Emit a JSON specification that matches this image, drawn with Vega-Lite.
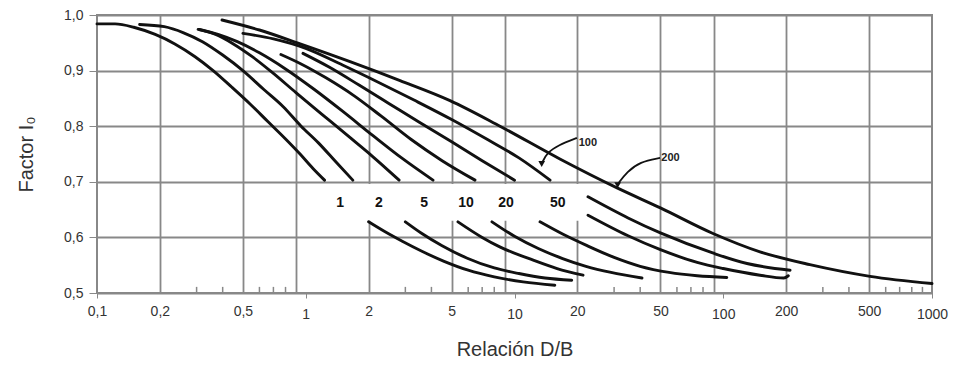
{
  "$schema": "https://vega.github.io/schema/vega-lite/v6.json",
  "width": 835,
  "height": 278,
  "autosize": "none",
  "padding": {"left": 97, "top": 15, "right": 22, "bottom": 77},
  "background": "white",
  "config": {
    "view": {"stroke": "#888888", "strokeWidth": 2},
    "font": "Liberation Sans",
    "axis": {"labelFont": "Liberation Sans", "titleFont": "Liberation Sans", "titleFontWeight": "normal", "labelColor": "#333333", "titleColor": "#333333", "domain": false, "gridColor": "#888888", "gridWidth": 1.8, "tickColor": "#888888"}
  },
  "datasets": {
    "curves": [
      {"s": "1a", "x": 0.1, "y": 0.984}, {"s": "1a", "x": 0.122, "y": 0.984}, {"s": "1a", "x": 0.15, "y": 0.978}, {"s": "1a", "x": 0.19, "y": 0.965}, {"s": "1a", "x": 0.236, "y": 0.948}, {"s": "1a", "x": 0.295, "y": 0.925}, {"s": "1a", "x": 0.36, "y": 0.9}, {"s": "1a", "x": 0.443, "y": 0.87}, {"s": "1a", "x": 0.541, "y": 0.84}, {"s": "1a", "x": 0.66, "y": 0.808}, {"s": "1a", "x": 0.796, "y": 0.778}, {"s": "1a", "x": 0.939, "y": 0.75}, {"s": "1a", "x": 1.083, "y": 0.724}, {"s": "1a", "x": 1.23, "y": 0.703},
      {"s": "1b", "x": 2.0, "y": 0.628}, {"s": "1b", "x": 2.4, "y": 0.61}, {"s": "1b", "x": 2.9, "y": 0.593}, {"s": "1b", "x": 3.6, "y": 0.575}, {"s": "1b", "x": 4.6, "y": 0.557}, {"s": "1b", "x": 6, "y": 0.541}, {"s": "1b", "x": 8, "y": 0.529}, {"s": "1b", "x": 11, "y": 0.52}, {"s": "1b", "x": 15.6, "y": 0.514},
      {"s": "2a", "x": 0.16, "y": 0.983}, {"s": "2a", "x": 0.21, "y": 0.979}, {"s": "2a", "x": 0.26, "y": 0.968}, {"s": "2a", "x": 0.32, "y": 0.952}, {"s": "2a", "x": 0.4, "y": 0.928}, {"s": "2a", "x": 0.5, "y": 0.9}, {"s": "2a", "x": 0.63, "y": 0.866}, {"s": "2a", "x": 0.78, "y": 0.835}, {"s": "2a", "x": 0.95, "y": 0.8}, {"s": "2a", "x": 1.15, "y": 0.77}, {"s": "2a", "x": 1.4, "y": 0.735}, {"s": "2a", "x": 1.68, "y": 0.703},
      {"s": "2b", "x": 3.0, "y": 0.628}, {"s": "2b", "x": 3.6, "y": 0.607}, {"s": "2b", "x": 4.5, "y": 0.585}, {"s": "2b", "x": 5.9, "y": 0.563}, {"s": "2b", "x": 8, "y": 0.545}, {"s": "2b", "x": 10.5, "y": 0.535}, {"s": "2b", "x": 14, "y": 0.527}, {"s": "2b", "x": 18.8, "y": 0.523},
      {"s": "5a", "x": 0.305, "y": 0.974}, {"s": "5a", "x": 0.37, "y": 0.965}, {"s": "5a", "x": 0.45, "y": 0.948}, {"s": "5a", "x": 0.55, "y": 0.926}, {"s": "5a", "x": 0.7, "y": 0.895}, {"s": "5a", "x": 0.9, "y": 0.86}, {"s": "5a", "x": 1.2, "y": 0.821}, {"s": "5a", "x": 1.6, "y": 0.782}, {"s": "5a", "x": 2.1, "y": 0.745}, {"s": "5a", "x": 2.8, "y": 0.703},
      {"s": "5b", "x": 5.36, "y": 0.628}, {"s": "5b", "x": 7, "y": 0.6}, {"s": "5b", "x": 8.5, "y": 0.583}, {"s": "5b", "x": 12.3, "y": 0.559}, {"s": "5b", "x": 16, "y": 0.544}, {"s": "5b", "x": 21.3, "y": 0.532},
      {"s": "10a", "x": 0.31, "y": 0.974}, {"s": "10a", "x": 0.38, "y": 0.965}, {"s": "10a", "x": 0.47, "y": 0.952}, {"s": "10a", "x": 0.6, "y": 0.932}, {"s": "10a", "x": 0.8, "y": 0.903}, {"s": "10a", "x": 1.1, "y": 0.866}, {"s": "10a", "x": 1.5, "y": 0.827}, {"s": "10a", "x": 2.1, "y": 0.783}, {"s": "10a", "x": 2.9, "y": 0.742}, {"s": "10a", "x": 4.07, "y": 0.703},
      {"s": "10b", "x": 7.8, "y": 0.628}, {"s": "10b", "x": 10, "y": 0.602}, {"s": "10b", "x": 13, "y": 0.58}, {"s": "10b", "x": 17, "y": 0.562}, {"s": "10b", "x": 22, "y": 0.548}, {"s": "10b", "x": 29, "y": 0.537}, {"s": "10b", "x": 40.8, "y": 0.527},
      {"s": "20a", "x": 0.76, "y": 0.929}, {"s": "20a", "x": 0.95, "y": 0.912}, {"s": "20a", "x": 1.25, "y": 0.887}, {"s": "20a", "x": 1.7, "y": 0.855}, {"s": "20a", "x": 2.3, "y": 0.818}, {"s": "20a", "x": 3.2, "y": 0.776}, {"s": "20a", "x": 4.5, "y": 0.738}, {"s": "20a", "x": 6.47, "y": 0.703},
      {"s": "20b", "x": 13.25, "y": 0.628}, {"s": "20b", "x": 17, "y": 0.606}, {"s": "20b", "x": 22, "y": 0.586}, {"s": "20b", "x": 30, "y": 0.564}, {"s": "20b", "x": 40, "y": 0.548}, {"s": "20b", "x": 55, "y": 0.537}, {"s": "20b", "x": 75, "y": 0.531}, {"s": "20b", "x": 104, "y": 0.528},
      {"s": "50a", "x": 0.97, "y": 0.931}, {"s": "50a", "x": 1.3, "y": 0.906}, {"s": "50a", "x": 1.8, "y": 0.874}, {"s": "50a", "x": 2.5, "y": 0.841}, {"s": "50a", "x": 3.5, "y": 0.807}, {"s": "50a", "x": 5, "y": 0.772}, {"s": "50a", "x": 7, "y": 0.738}, {"s": "50a", "x": 10, "y": 0.703},
      {"s": "50b", "x": 22.5, "y": 0.64}, {"s": "50b", "x": 35, "y": 0.603}, {"s": "50b", "x": 50, "y": 0.578}, {"s": "50b", "x": 75, "y": 0.555}, {"s": "50b", "x": 100, "y": 0.544}, {"s": "50b", "x": 150, "y": 0.532}, {"s": "50b", "x": 195, "y": 0.527}, {"s": "50b", "x": 205, "y": 0.531},
      {"s": "100a", "x": 0.5, "y": 0.967}, {"s": "100a", "x": 0.7, "y": 0.957}, {"s": "100a", "x": 1.0, "y": 0.94}, {"s": "100a", "x": 1.5, "y": 0.91}, {"s": "100a", "x": 2.2, "y": 0.88}, {"s": "100a", "x": 3.3, "y": 0.847}, {"s": "100a", "x": 5, "y": 0.812}, {"s": "100a", "x": 7.5, "y": 0.775}, {"s": "100a", "x": 10.5, "y": 0.743}, {"s": "100a", "x": 14.8, "y": 0.703},
      {"s": "100b", "x": 22.5, "y": 0.673}, {"s": "100b", "x": 35, "y": 0.635}, {"s": "100b", "x": 50, "y": 0.608}, {"s": "100b", "x": 89, "y": 0.572}, {"s": "100b", "x": 130, "y": 0.553}, {"s": "100b", "x": 209, "y": 0.541},
      {"s": "200", "x": 0.397, "y": 0.991}, {"s": "200", "x": 0.6, "y": 0.973}, {"s": "200", "x": 0.94, "y": 0.948}, {"s": "200", "x": 1.63, "y": 0.916}, {"s": "200", "x": 2.83, "y": 0.882}, {"s": "200", "x": 4.91, "y": 0.846}, {"s": "200", "x": 8.52, "y": 0.8}, {"s": "200", "x": 16.5, "y": 0.741}, {"s": "200", "x": 31, "y": 0.689}, {"s": "200", "x": 50, "y": 0.653}, {"s": "200", "x": 89.3, "y": 0.607}, {"s": "200", "x": 150, "y": 0.574}, {"s": "200", "x": 260, "y": 0.551}, {"s": "200", "x": 505, "y": 0.53}, {"s": "200", "x": 1000, "y": 0.517}
    ],
    "arrows": [
      {"a": "100", "o": 1, "x": 19.9, "y": 0.779}, {"a": "100", "o": 2, "x": 16.2, "y": 0.766}, {"a": "100", "o": 3, "x": 14.3, "y": 0.752}, {"a": "100", "o": 4, "x": 13.6, "y": 0.735},
      {"a": "200", "o": 1, "x": 49.8, "y": 0.743}, {"a": "200", "o": 2, "x": 39.9, "y": 0.736}, {"a": "200", "o": 3, "x": 34.6, "y": 0.718}, {"a": "200", "o": 4, "x": 31.4, "y": 0.697}
    ],
    "heads": [
      {"a": "100", "x": 13.5, "y": 0.732},
      {"a": "200", "x": 31.2, "y": 0.694}
    ],
    "labels": [
      {"t": "1", "x": 1.46, "y": 0.662}, {"t": "2", "x": 2.24, "y": 0.662}, {"t": "5", "x": 3.69, "y": 0.662}, {"t": "10", "x": 5.86, "y": 0.662}, {"t": "20", "x": 9.1, "y": 0.662}, {"t": "50", "x": 16.1, "y": 0.662}
    ],
    "arrowlabels": [
      {"t": "100", "x": 20.3, "y": 0.77}, {"t": "200", "x": 50.5, "y": 0.743}
    ],
    "minor": [
      {"x": 0.3}, {"x": 0.4}, {"x": 0.6}, {"x": 0.7}, {"x": 0.8}, {"x": 3}, {"x": 4}, {"x": 6}, {"x": 7}, {"x": 8}, {"x": 30}, {"x": 40}, {"x": 60}, {"x": 70}, {"x": 80}, {"x": 300}, {"x": 400}, {"x": 600}, {"x": 700}, {"x": 800}, {"x": 900}
    ],
    "band": [{"x": 1.0, "x2": 24, "y": 0.63, "y2": 0.696}]
  },
  "layer": [
    {
      "data": {"name": "band"},
      "mark": {"type": "rect", "fill": "white", "stroke": null},
      "encoding": {
        "x": {"field": "x", "type": "quantitative", "scale": {"type": "log", "domain": [0.1, 1000], "nice": false},
          "axis": {
            "title": "Relación D/B", "titleFontSize": 20, "titlePadding": 18,
            "values": [0.1, 0.2, 0.5, 0.9, 1, 2, 5, 9, 10, 20, 50, 90, 100, 200, 500, 1000],
            "labelExpr": "indexof([0.9, 9, 90], datum.value) >= 0 ? '' : replace(toString(datum.value), '.', ',')",
            "labelFontSize": 14, "labelOverlap": false, "labelFlush": false, "labelBound": false,
            "tickSize": 5,
            "labelPadding": {"condition": {"test": "indexof([1, 10, 100, 1000], datum.value) >= 0", "value": 9}, "value": 6},
            "grid": true,
            "gridOpacity": {"condition": {"test": "indexof([0.2, 0.5, 0.9, 2, 5, 9, 20, 50, 90, 200, 500], datum.value) >= 0", "value": 1}, "value": 0},
            "tickOpacity": {"condition": {"test": "indexof([0.1, 1, 10, 100, 1000], datum.value) >= 0", "value": 1}, "value": 0}
          }},
        "x2": {"field": "x2"},
        "y": {"field": "y", "type": "quantitative", "scale": {"domain": [0.5, 1.0], "nice": false, "zero": false},
          "axis": {
            "title": "Factor I₀", "titleFontSize": 20, "titlePadding": 27,
            "values": [0.5, 0.6, 0.7, 0.8, 0.9, 1.0],
            "labelExpr": "replace(format(datum.value, '.1f'), '.', ',')",
            "labelFontSize": 14, "tickSize": 8, "labelPadding": 6, "grid": true
          }},
        "y2": {"field": "y2"}
      }
    },
    {
      "data": {"name": "minor"},
      "mark": {"type": "rule", "color": "#888888", "strokeWidth": 1.5},
      "encoding": {
        "x": {"field": "x", "type": "quantitative"},
        "y": {"datum": 0.5},
        "y2": {"datum": 0.511}
      }
    },
    {
      "data": {"name": "curves"},
      "mark": {"type": "line", "color": "#111111", "strokeWidth": 2.9, "strokeCap": "round", "interpolate": "monotone"},
      "encoding": {
        "x": {"field": "x", "type": "quantitative"},
        "y": {"field": "y", "type": "quantitative"},
        "detail": {"field": "s"}
      }
    },
    {
      "data": {"name": "arrows"},
      "mark": {"type": "line", "color": "#111111", "strokeWidth": 1.8, "interpolate": "basis"},
      "encoding": {
        "x": {"field": "x", "type": "quantitative"},
        "y": {"field": "y", "type": "quantitative"},
        "detail": {"field": "a"},
        "order": {"field": "o"}
      }
    },
    {
      "data": {"name": "heads"},
      "mark": {"type": "point", "shape": "triangle-down", "filled": true, "color": "#111111", "size": 45, "opacity": 1},
      "encoding": {
        "x": {"field": "x", "type": "quantitative"},
        "y": {"field": "y", "type": "quantitative"}
      }
    },
    {
      "data": {"name": "labels"},
      "mark": {"type": "text", "font": "Liberation Sans", "fontWeight": "bold", "fontSize": 14, "color": "#111111"},
      "encoding": {
        "x": {"field": "x", "type": "quantitative"},
        "y": {"field": "y", "type": "quantitative"},
        "text": {"field": "t"}
      }
    },
    {
      "data": {"name": "arrowlabels"},
      "mark": {"type": "text", "font": "Liberation Sans", "fontWeight": "bold", "fontSize": 11, "color": "#222222", "align": "left"},
      "encoding": {
        "x": {"field": "x", "type": "quantitative"},
        "y": {"field": "y", "type": "quantitative"},
        "text": {"field": "t"}
      }
    }
  ]
}
